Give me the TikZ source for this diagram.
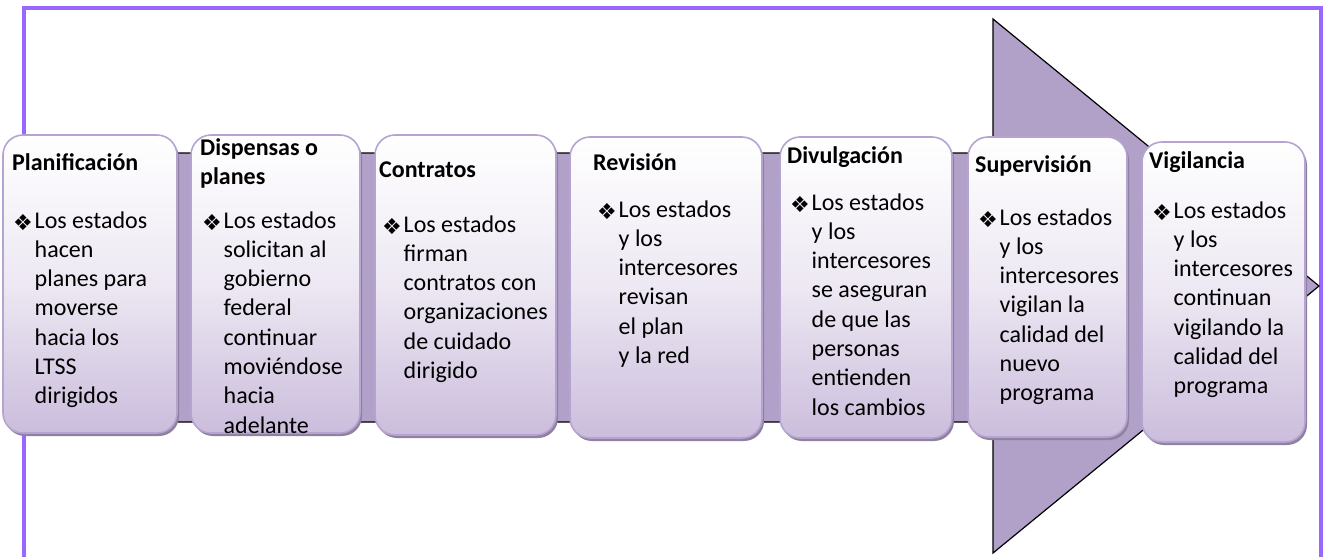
\documentclass[tikz,border=0pt]{standalone}
\usepackage{fontspec}
\setmainfont{Carlito}
\newfontfamily\dvsans{DejaVu Sans}
\usetikzlibrary{shadows}
\definecolor{framec}{HTML}{9966FF}
\definecolor{arrowc}{HTML}{B1A0C7}
\definecolor{boxbot}{HTML}{CBBDDC}
\definecolor{boxline}{HTML}{B5A3D1}
\definecolor{shadowc}{HTML}{8E82A0}
\newcommand\bulmark{\makebox[21.5pt][l]{\raisebox{-2pt}{\dvsans\fontsize{22}{22}\selectfont ❖}}}
\newcommand\hind{\hspace*{21.5pt}}
\newcommand\bodylist[1]{\begin{tabular}[t]{@{}l@{}}#1\end{tabular}}
\tikzset{
 box/.style={rectangle, rounded corners=20pt, draw=boxline, line width=1.6pt,
   top color=white, bottom color=boxbot, middle color=boxbot!35!white, inner sep=0pt,
   drop shadow={shadow xshift=2pt, shadow yshift=-3pt, fill=shadowc, opacity=1}},
 txt/.style={anchor=base west, inner sep=0pt, font=\fontsize{24}{29.3}\selectfont},
 head/.style={txt, font=\fontsize{24}{29.3}\selectfont\bfseries},
 arrowshape/.style={fill=arrowc, draw=black, line width=1.2pt, line join=miter},
 framestyle/.style={draw=framec, line width=3.5pt},
}
\begin{document}
\begin{tikzpicture}[x=1pt,y=-1pt]
\useasboundingbox (0,0) rectangle (1323,557);
\clip (0,0) rectangle (1323,557);
% frame
\draw[framestyle] (24,620) -- (24,8) -- (1321,8) -- (1321,620);
% big arrow
\path[arrowshape] (10,153) -- (993,153) -- (993,19) -- (1319,286) -- (993,553) -- (993,422) -- (10,422) -- cycle;
% boxes
\node[box, minimum width=174pt, minimum height=298pt] (n1) at (90,284) {};
\node[box, minimum width=169pt, minimum height=298pt] (n2) at (275.5,284) {};
\node[box, minimum width=181pt, minimum height=300pt] (n3) at (465.5,285) {};
\node[box, minimum width=192pt, minimum height=301pt] (n4) at (666,287.5) {};
\node[box, minimum width=172pt, minimum height=301pt] (n5) at (866,287.5) {};
\node[box, minimum width=159pt, minimum height=300pt] (n6) at (1047.5,287) {};
\node[box, minimum width=163pt, minimum height=300pt] (n7) at (1223.5,292) {};
% texts
\node[head] (h1) at (12,170) {Planificación};
\node[txt] (b1) at (13,228) {\bodylist{\bulmark Los estados\\ \hind hacen\\ \hind planes para\\ \hind moverse\\ \hind hacia los\\ \hind LTSS\\ \hind dirigidos}};
\node[head] (h2) at (200,155) {\bodylist{Dispensas o\\ planes}};
\node[txt] (b2) at (202,228) {\bodylist{\bulmark Los estados\\ \hind solicitan al\\ \hind gobierno\\ \hind federal\\ \hind continuar\\ \hind moviéndose\\ \hind hacia\\ \hind adelante}};
\node[head] (h3) at (379,177) {Contratos};
\node[txt] (b3) at (382,232) {\bodylist{\bulmark Los estados\\ \hind firman\\ \hind contratos con\\ \hind organizaciones\\ \hind de cuidado\\ \hind dirigido}};
\node[head] (h4) at (593,170) {Revisión};
\node[txt] (b4) at (597,217) {\bodylist{\bulmark Los estados\\ \hind y los\\ \hind intercesores\\ \hind revisan\\ \hind el plan\\ \hind y la red}};
\node[head] (h5) at (787,163) {Divulgación};
\node[txt] (b5) at (790,210) {\bodylist{\bulmark Los estados\\ \hind y los\\ \hind intercesores\\ \hind se aseguran\\ \hind de que las\\ \hind personas\\ \hind entienden\\ \hind los cambios}};
\node[head] (h6) at (975,172) {Supervisión};
\node[txt] (b6) at (978,225) {\bodylist{\bulmark Los estados\\ \hind y los\\ \hind intercesores\\ \hind vigilan la\\ \hind calidad del\\ \hind nuevo\\ \hind programa}};
\node[head] (h7) at (1149,168) {Vigilancia};
\node[txt] (b7) at (1152,218) {\bodylist{\bulmark Los estados\\ \hind y los\\ \hind intercesores\\ \hind continuan\\ \hind vigilando la\\ \hind calidad del\\ \hind programa}};
\end{tikzpicture}
\end{document}
